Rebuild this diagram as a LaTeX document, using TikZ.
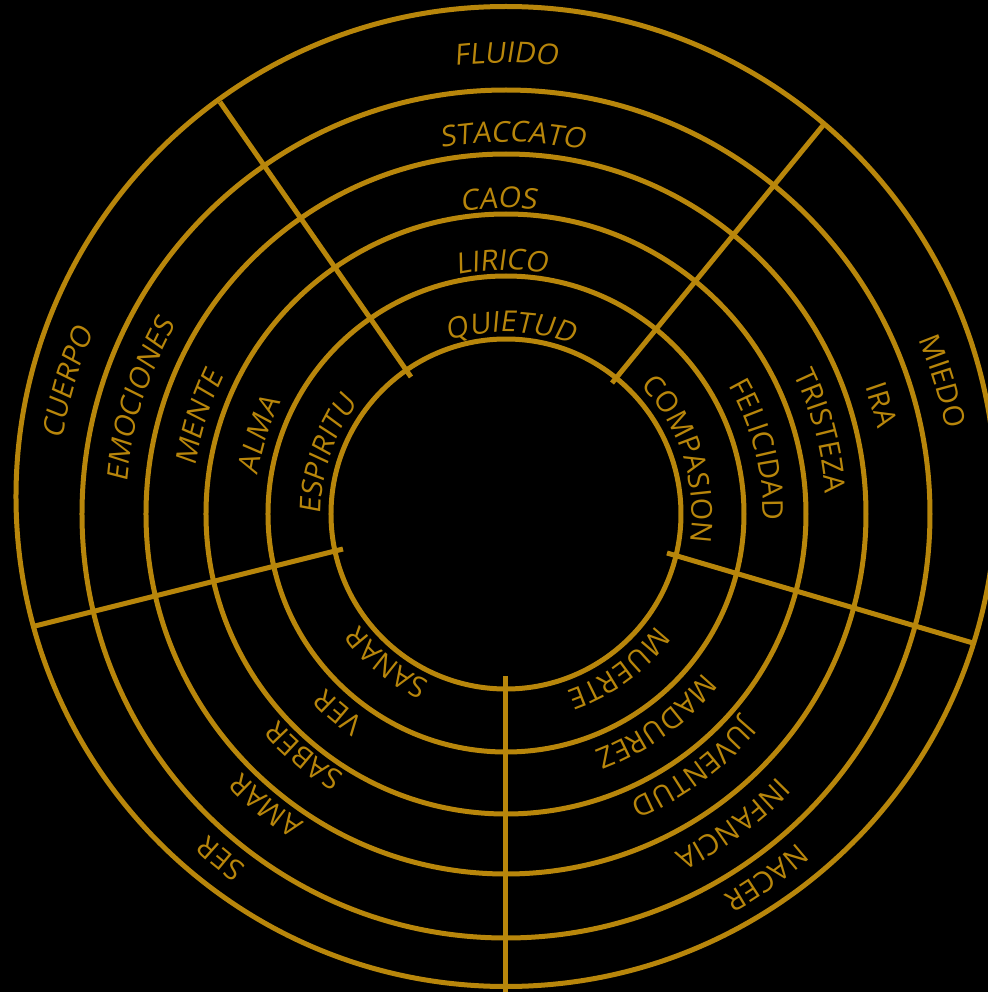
\documentclass[tikz,border=0pt]{standalone}
\usepackage{fontspec}
\setmainfont{Open Sans}
\newfontfamily\ringfont[LetterSpace=8]{Open Sans}
\newfontfamily\ringslant[LetterSpace=8,FakeSlant=0.15]{Open Sans}
\newcommand\ringup{\ringfont\fontsize{20.5}{24}\selectfont}
\newcommand\ringit{\ringslant\fontsize{20.5}{24}\selectfont}
\usetikzlibrary{decorations.text}
\definecolor{ringGold}{HTML}{B8860B}

\begin{document}
\begin{tikzpicture}[
    x=0.25mm, y=0.25mm,
    ring/.style={draw=ringGold, line width=1.25mm},
    spoke/.style={draw=ringGold, line width=1.25mm},
    ringword/.style={decorate, decoration={text along path, text align=center, text color=ringGold, text={#1}}}
]
\useasboundingbox (-506,-478) rectangle (482,514);
\clip (-506,-478) rectangle (482,514);
\fill[black] (-506,-478) rectangle (482,514);

\coordinate (c) at (0,0);
\coordinate (oc) at (0,17.5);

\draw[ring] (c) circle[radius=175];
\draw[ring] (c) circle[radius=238];
\draw[ring] (c) circle[radius=300];
\draw[ring] (c) circle[radius=360];
\draw[ring] (c) circle[radius=424];
\draw[ring] (oc) circle[radius=490];

\coordinate (nwIn) at (-95,137);
\coordinate (nwOut) at (-286,412);
\coordinate (neIn) at (106,131);
\coordinate (neOut) at (319,391);
\coordinate (eIn) at (161,-39);
\coordinate (eOut) at (467,-129);
\coordinate (wIn) at (-163,-35);
\coordinate (wOut) at (-471,-112);
\coordinate (sIn) at (0,-162);
\coordinate (sOut) at (0,-478);

\draw[spoke] (nwIn) -- (nwOut);
\draw[spoke] (neIn) -- (neOut);
\draw[spoke] (eIn) -- (eOut);
\draw[spoke] (wIn) -- (wOut);
\draw[spoke] (sIn) -- (sOut);

% top
\path[ringword={|\ringit|FLUIDO}] (140:451) arc[start angle=140, delta angle=-100, radius=451];
\path[ringword={|\ringit|STACCATO}] (139:372) arc[start angle=139, delta angle=-100, radius=372];
\path[ringword={|\ringit|CAOS}] (141.4:306) arc[start angle=141.4, delta angle=-100, radius=306];
\path[ringword={|\ringit|LIRICO}] (141:244) arc[start angle=141, delta angle=-100, radius=244];
\path[ringword={|\ringit|QUIETUD}] (138.5:182) arc[start angle=138.5, delta angle=-100, radius=182];

% left
\path[ringword={|\ringit|CUERPO}] (213.3:450) arc[start angle=213.3, delta angle=-100, radius=450];
\path[ringword={|\ringit|EMOCIONES}] (212.7:380) arc[start angle=212.7, delta angle=-100, radius=380];
\path[ringword={|\ringit|MENTE}] (212.6:314) arc[start angle=212.6, delta angle=-100, radius=314];
\path[ringword={|\ringit|ALMA}] (212.4:251) arc[start angle=212.4, delta angle=-100, radius=251];
\path[ringword={|\ringit|ESPIRITU}] (211.7:185) arc[start angle=211.7, delta angle=-100, radius=185];

% right
\path[ringword={|\ringup|MIEDO}] (66.9:448) arc[start angle=66.9, delta angle=-100, radius=448];
\path[ringword={|\ringup|IRA}] (66.2:381) arc[start angle=66.2, delta angle=-100, radius=381];
\path[ringword={|\ringup|TRISTEZA}] (64.8:320) arc[start angle=64.8, delta angle=-100, radius=320];
\path[ringword={|\ringup|FELICIDAD}] (64.3:257) arc[start angle=64.3, delta angle=-100, radius=257];
\path[ringword={|\ringup|COMPASION}] (67.5:186) arc[start angle=67.5, delta angle=-100, radius=186];

% bottom left
\path[ringword={|\ringup|SER}] (280.4:437) arc[start angle=280.4, delta angle=-100, radius=437];
\path[ringword={|\ringup|AMAR}] (280.6:369) arc[start angle=280.6, delta angle=-100, radius=369];
\path[ringword={|\ringup|SABER}] (280.1:307) arc[start angle=280.1, delta angle=-100, radius=307];
\path[ringword={|\ringup|VER}] (279.8:250) arc[start angle=279.8, delta angle=-100, radius=250];
\path[ringword={|\ringup|SANAR}] (281.3:184) arc[start angle=281.3, delta angle=-100, radius=184];

% bottom right
\path[ringword={|\ringup|NACER}] (355.6:439) arc[start angle=355.6, delta angle=-100, radius=439];
\path[ringword={|\ringup|INFANCIA}] (356.2:378) arc[start angle=356.2, delta angle=-100, radius=378];
\path[ringword={|\ringup|JUVENTUD}] (356.4:312) arc[start angle=356.4, delta angle=-100, radius=312];
\path[ringword={|\ringup|MADUREZ}] (355.9:253) arc[start angle=355.9, delta angle=-100, radius=253];
\path[ringword={|\ringup|MUERTE}] (356.1:187) arc[start angle=356.1, delta angle=-100, radius=187];
\end{tikzpicture}
\end{document}
